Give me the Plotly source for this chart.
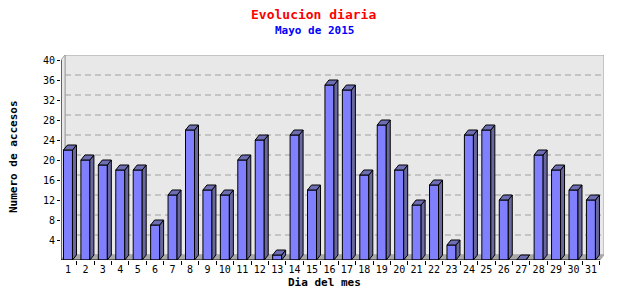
import plotly.graph_objects as go

# ---- data ----
days = list(range(1, 32))
day_labels = [str(d) for d in days]
visits = [22, 20, 19, 18, 18, 7, 13, 26, 14, 13, 20, 24, 1, 25, 14,
          35, 34, 17, 27, 18, 11, 15, 3, 25, 26, 12, 0, 21, 18, 14, 12]
y_ticks = list(range(4, 41, 4))

# ---- geometry / style ----
W, H = 640, 300
ML, MR, MT, MB = 61, 36, 55, 40
X0, X1 = 0.6, 31.75
Y0, Y1 = 0, 41
pw, ph = W - ML - MR, H - MT - MB
ux = pw / (X1 - X0)
uy = ph / (Y1 - Y0)
DX = 4 / ux
DY = 5 / uy
BW = 9 / ux

FRONT = '#8080ff'
TOP = '#6e6eb4'
SIDE = '#68689e'
WALL = '#e8e8e8'
WALL_LINE = '#a0a0a0'
FLOOR = '#a8a8a8'
MONO = 'DejaVu Sans Mono'

fig = go.Figure()

fig.add_trace(go.Bar(x=days, y=visits, width=[BW] * len(days),
                     marker=dict(color=FRONT, line=dict(color='black', width=1)),
                     hoverinfo='skip'))

sx, sy, tx, ty = [], [], [], []
for d, v in zip(days, visits):
    xl, xr = d - BW / 2, d + BW / 2
    sx += [xr, xr + DX, xr + DX, xr, xr, None]
    sy += [0, DY, v + DY, v, 0, None]
    tx += [xl, xl + DX, xr + DX, xr, xl, None]
    ty += [v, v + DY, v + DY, v, v, None]

fig.add_trace(go.Scatter(x=sx, y=sy, mode='lines', fill='toself', fillcolor=SIDE,
                         line=dict(color='black', width=1), hoverinfo='skip'))
fig.add_trace(go.Scatter(x=tx, y=ty, mode='lines', fill='toself', fillcolor=TOP,
                         line=dict(color='black', width=1), hoverinfo='skip'))

shapes = []
# back wall
shapes.append(dict(type='rect', xref='x', yref='y', x0=X0 + DX, x1=X1, y0=DY, y1=Y1,
                   fillcolor=WALL, line=dict(color=WALL_LINE, width=1), layer='below'))
# left side wall
shapes.append(dict(type='path', xref='x', yref='y',
                   path=f'M{X0},0 L{X0+DX},{DY} L{X0+DX},{Y1} L{X0},{Y1-DY} Z',
                   fillcolor=WALL, line=dict(color=WALL_LINE, width=1), layer='below'))
# floor
shapes.append(dict(type='path', xref='x', yref='y',
                   path=f'M{X0},0 L{X1-DX},0 L{X1},{DY} L{X0+DX},{DY} Z',
                   fillcolor=FLOOR, line=dict(color=FLOOR, width=1), layer='below'))
# gridlines on back wall
for g in y_ticks[:-1]:
    shapes.append(dict(type='line', xref='x', yref='y', x0=X0 + DX, x1=X1,
                       y0=g + DY, y1=g + DY,
                       line=dict(color='#a0a0a0', width=1, dash='6px,4px'), layer='below'))
# front axis lines
shapes.append(dict(type='line', xref='x', yref='y', x0=X0, x1=X0, y0=0, y1=y_ticks[-1],
                   line=dict(color='black', width=1)))
shapes.append(dict(type='line', xref='x', yref='y', x0=X0, x1=X1 - DX, y0=0, y1=0,
                   line=dict(color='black', width=1)))

def px2paper_x(p):
    return (p - ML) / pw

def px2paper_y(p):
    return (H - MB - p) / ph

def label(text, px, py, size, color, angle=0):
    return dict(text=text, x=px2paper_x(px), y=px2paper_y(py),
                xref='paper', yref='paper', xanchor='center', yanchor='middle',
                showarrow=False, textangle=angle,
                font=dict(family=MONO, size=size, color=color))

annotations = [
    label('<b>Evolucion diaria</b>', 313, 14, 13, '#ff0000'),
    label('<b>Mayo de 2015</b>', 314, 31, 11, '#0000ff'),
    label('<b>Numero de accesos</b>', 13, 157, 11, 'black', -90),
    label('<b>Dia del mes</b>', 324, 282, 11, 'black'),
]

fig.update_layout(
    width=W, height=H,
    margin=dict(l=ML, r=MR, t=MT, b=MB, pad=0),
    paper_bgcolor='white', plot_bgcolor='white',
    showlegend=False,
    shapes=shapes,
    annotations=annotations,
    xaxis=dict(range=[X0, X1], tickmode='array', tickvals=days, ticktext=day_labels,
               ticks='outside', ticklen=0, showgrid=False, zeroline=False, showline=False,
               tickfont=dict(family=MONO, size=10, color='black'),
               minor=dict(tickmode='array', tickvals=[d + 0.5 for d in days],
                          ticks='outside', ticklen=4, tickcolor='black', showgrid=False)),
    yaxis=dict(range=[Y0, Y1], tickmode='array', tickvals=y_ticks,
               ticks='outside', ticklen=3, tickcolor='black',
               showgrid=False, zeroline=False, showline=False,
               tickfont=dict(family=MONO, size=10, color='black')),
)

fig.write_html('out.html')
